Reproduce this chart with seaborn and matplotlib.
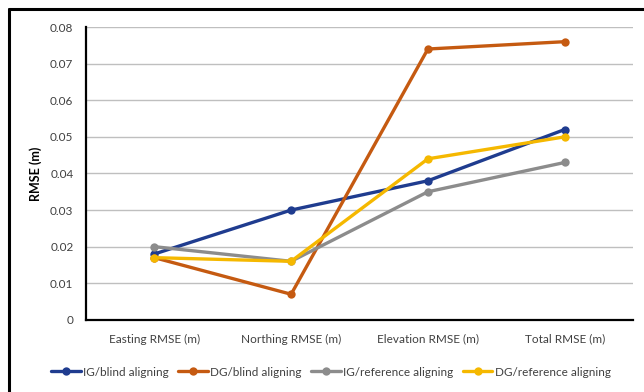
import matplotlib
matplotlib.use("Agg")
import matplotlib.pyplot as plt
import seaborn as sns
import pandas as pd
from matplotlib.lines import Line2D
from matplotlib.ticker import FuncFormatter

categories = ["Easting RMSE (m)", "Northing RMSE (m)", "Elevation RMSE (m)", "Total RMSE (m)"]
ig_blind = [0.018, 0.030, 0.038, 0.052]
dg_blind = [0.017, 0.007, 0.074, 0.076]
ig_reference = [0.020, 0.016, 0.035, 0.043]
dg_reference = [0.017, 0.016, 0.044, 0.050]
series_names = ["IG/blind aligning", "DG/blind aligning", "IG/reference aligning", "DG/reference aligning"]
series_values = [ig_blind, dg_blind, ig_reference, dg_reference]
colors = ["#1F3C8F", "#C55A11", "#8C8C8C", "#F5B800"]

rows = []
for name, vals in zip(series_names, series_values):
    for cat, v in zip(categories, vals):
        rows.append({"category": cat, "RMSE": v, "series": name})
df = pd.DataFrame(rows)

sns.set_theme(style="white")
plt.rcParams["font.family"] = ["Lato", "DejaVu Sans"]

fig = plt.figure(figsize=(6.44, 3.92), dpi=100)
ax = fig.add_axes([0.1335, 0.184, 0.983 - 0.1335, 0.931 - 0.184])

sns.lineplot(data=df, x="category", y="RMSE", hue="series", hue_order=series_names,
             palette=colors, marker="o", markersize=6, markeredgewidth=0,
             linewidth=2.4, sort=False, ax=ax, legend=True)

ax.set_xlim(-0.5, 3.5)
ax.set_ylim(0, 0.08)
ax.set_yticks([0, 0.01, 0.02, 0.03, 0.04, 0.05, 0.06, 0.07, 0.08])
ax.yaxis.set_major_formatter(FuncFormatter(lambda v, p: "0" if abs(v) < 1e-9 else f"{v:.2f}"))
ax.grid(axis="y", color="#BFBFBF", linewidth=1)
ax.set_axisbelow(True)
for side in ["top", "right"]:
    ax.spines[side].set_visible(False)
for side in ["left", "bottom"]:
    ax.spines[side].set_color("black")
    ax.spines[side].set_linewidth(1.6)
ax.tick_params(axis="both", length=0, labelsize=8.5, colors="#404040", pad=10)
ax.tick_params(axis="y", pad=9)
ax.set_xlabel("")
ax.set_ylabel("RMSE (m)", fontsize=9, fontweight="bold", color="black", labelpad=6)

handles, labels = ax.get_legend_handles_labels()
ax.legend(handles, labels, loc="center", bbox_to_anchor=(0.514, 0.051),
          bbox_transform=fig.transFigure, ncol=4, frameon=False, fontsize=8.5,
          handlelength=2.5, columnspacing=0.8, handletextpad=0.2, labelcolor="#404040")

# outer chart frame (left and top edges)
fig.add_artist(Line2D([9 / 644, 9 / 644], [0, 1 - 9 / 392], transform=fig.transFigure,
                      color="black", linewidth=2.2))
fig.add_artist(Line2D([9 / 644, 1], [1 - 9 / 392, 1 - 9 / 392], transform=fig.transFigure,
                      color="black", linewidth=2.2))

fig.savefig("out.png", dpi=100)
